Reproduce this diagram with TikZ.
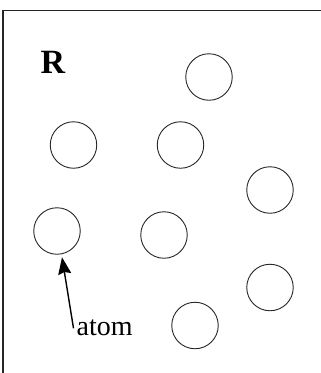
\documentclass[tikz,border=0pt]{standalone}
\usepackage{fontspec}
\setmainfont{Liberation Serif}
\usetikzlibrary{arrows.meta}
\begin{document}
\begin{tikzpicture}[x=1pt,y=-1pt,
  atomc/.style={draw, circle, minimum size=46.5pt, inner sep=0pt, line width=0.9pt, color=black!85},
  frameline/.style={line width=1.3pt, color=black!85}]
\useasboundingbox (0,0) rectangle (321,373);
\coordinate (tl) at (3,10.5);
\coordinate (tr) at (321,10.5);
\coordinate (bl) at (3,373);
\draw[frameline] (tr) -- (tl) -- (bl);
\node[anchor=base west, inner sep=0pt, font=\fontsize{34}{36}\selectfont\bfseries] (R) at (40.5,73) {R};
\node[atomc] (c1) at (209,77) {};
\node[atomc] (c2) at (73.5,145) {};
\node[atomc] (c3) at (180.5,145) {};
\node[atomc] (c4) at (270,190) {};
\node[atomc] (c5) at (57,231) {};
\node[atomc] (c6) at (164,235) {};
\node[atomc] (c7) at (270,287.5) {};
\node[atomc] (c8) at (195,325.5) {};
\node[anchor=base west, inner sep=0pt, font=\fontsize{28}{30}\selectfont] (atom) at (76.5,335) {atom};
\draw[line width=1.4pt, shorten >=3pt, -{Stealth[length=17pt,width=13pt,inset=2pt]}] ([xshift=-3pt,yshift=-1pt]atom.west) -- (c5.-79);
\end{tikzpicture}
\end{document}
